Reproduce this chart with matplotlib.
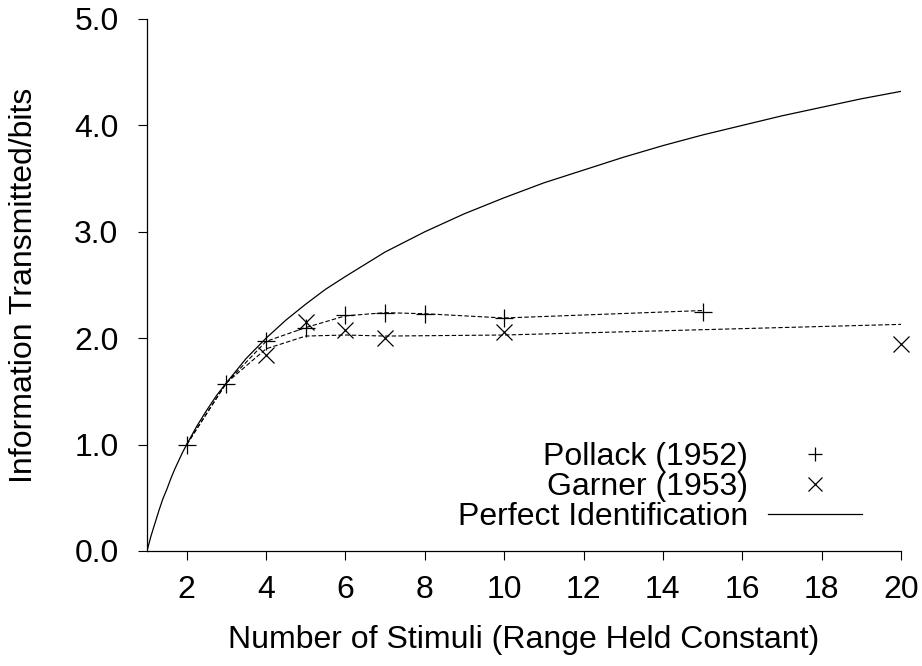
import numpy as np
import matplotlib
matplotlib.use("Agg")
import matplotlib.pyplot as plt

plt.rcParams['font.family'] = ['Liberation Sans', 'DejaVu Sans']

# Perfect identification curve
perfect_n = [1, 1.05, 1.1, 1.2, 1.3, 1.4, 1.5, 1.6, 1.7, 1.8, 1.9, 2, 2.25,
             2.5, 2.75, 3, 3.5, 4, 4.5, 5, 5.5, 6, 7, 8, 9, 10, 11, 12, 13,
             14, 15, 16, 17, 18, 19, 20]
perfect_bits = [0.0, 0.07, 0.14, 0.26, 0.38, 0.49, 0.58, 0.68, 0.77, 0.85,
                0.93, 1.0, 1.17, 1.32, 1.46, 1.58, 1.81, 2.0, 2.17, 2.32,
                2.46, 2.58, 2.81, 3.0, 3.17, 3.32, 3.46, 3.58, 3.70, 3.81,
                3.91, 4.0, 4.09, 4.17, 4.25, 4.32]

# Pollack (1952)
pollack_n = [2, 3, 4, 5, 6, 7, 8, 10, 15]
pollack_bits = [1.0, 1.57, 1.97, 2.10, 2.22, 2.24, 2.23, 2.19, 2.25]
pollack_fit = [1.0, 1.58, 1.97, 2.10, 2.21, 2.24, 2.23, 2.19, 2.26]

# Garner (1953)
garner_n = [4, 5, 6, 7, 10, 20]
garner_bits = [1.84, 2.15, 2.08, 2.00, 2.06, 1.95]
garner_fit_n = [2, 3, 4, 5, 6, 7, 10, 20]
garner_fit = [1.0, 1.58, 1.90, 2.02, 2.03, 2.02, 2.03, 2.13]

fs = 23

fig = plt.figure(figsize=(9.22, 6.66), dpi=100)
ax = fig.add_axes([147/922, 1 - 551/666, 754/922, 532/666])

ax.plot(perfect_n, perfect_bits, color='black', lw=0.9, label='Perfect Identification')
ax.plot(pollack_n, pollack_fit, color='black', lw=0.8, dashes=(4, 2))
ax.plot(garner_fit_n, garner_fit, color='black', lw=0.8, dashes=(4, 2))
ax.plot(pollack_n, pollack_bits, ls='none', marker='+', ms=13, mew=0.9,
        color='black', label='Pollack (1952)', clip_on=False)
ax.plot(garner_n, garner_bits, ls='none', marker='x', ms=12, mew=0.9,
        color='black', label='Garner (1953)', clip_on=False)

ax.set_xlim(1, 20)
ax.set_ylim(0, 5)
ax.set_xticks(range(2, 21, 2))
ax.set_yticks(np.arange(0, 5.1, 1.0))
ax.set_yticklabels(['%.1f' % v for v in np.arange(0, 5.1, 1.0)])
ax.tick_params(direction='out', length=6.5, width=0.8, labelsize=fs)
ax.tick_params(axis='x', pad=11)
ax.tick_params(axis='y', pad=14)
for s in ['top', 'right']:
    ax.spines[s].set_visible(False)
for s in ['left', 'bottom']:
    ax.spines[s].set_linewidth(0.9)

ax.set_xlabel('Number of Stimuli (Range Held Constant)', fontsize=fs, labelpad=14)
ax.set_ylabel('Information Transmitted/bits', fontsize=fs, labelpad=25)

h, l = ax.get_legend_handles_labels()
order = [1, 2, 0]
ax.legend([h[i] for i in order], [l[i] for i in order], loc='upper right',
          bbox_to_anchor=(0.948, 0.205), frameon=False, markerfirst=False,
          fontsize=fs, handlelength=2.95, handletextpad=0.62, labelspacing=0.0,
          borderpad=0, borderaxespad=0, markerscale=0.8)

plt.savefig('out.png', dpi=100)
